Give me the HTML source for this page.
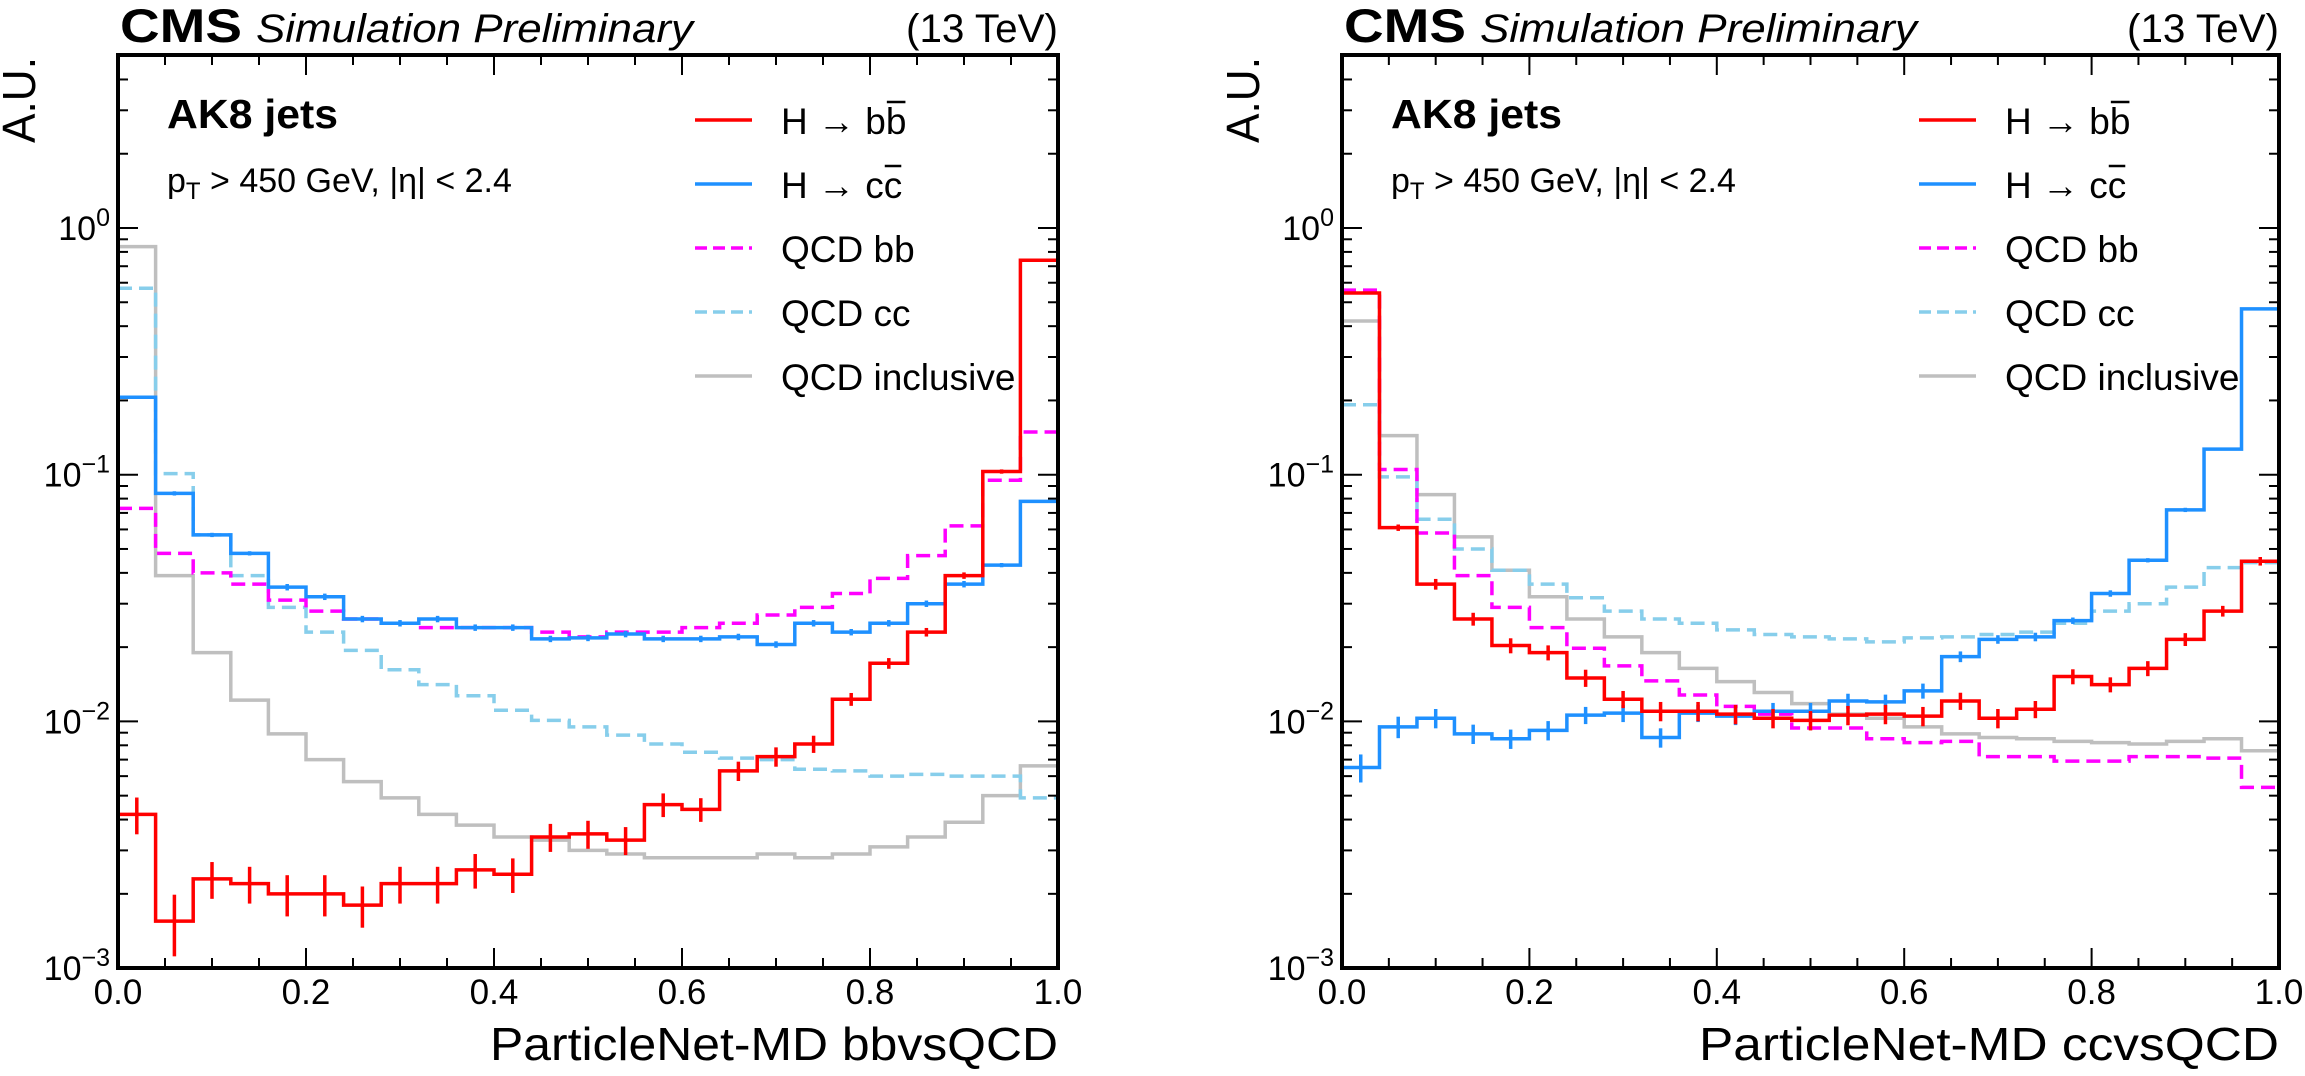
<!DOCTYPE html>
<html><head><meta charset="utf-8">
<style>
html,body{margin:0;padding:0;background:#fff;}
svg{display:block;font-family:"Liberation Sans",Arial,sans-serif;}
</style></head>
<body>
<svg id="chart" width="2305" height="1076" viewBox="0 0 2305 1076"></svg>
<script>
// ---- data: 25 bins of width 0.04 on [0,1] ----
const binEdges = [0,0.04,0.08,0.12,0.16,0.2,0.24,0.28,0.32,0.36,0.4,0.44,0.48,0.52,0.56,0.6,0.64,0.68,0.72,0.76,0.8,0.84,0.88,0.92,0.96,1.0];
const xTickLabels = ["0.0","0.2","0.4","0.6","0.8","1.0"];
const xTickValues = [0,0.2,0.4,0.6,0.8,1.0];
const yTickExps = [0,-1,-2,-3];
const seriesNames = ["H → bb","H → cc","QCD bb","QCD cc","QCD inclusive"];

// left panel (bbvsQCD)
const L_hbb = [0.0042,0.00155,0.0023,0.0022,0.002,0.002,0.0018,0.0022,0.0022,0.0025,0.0024,0.0034,0.0035,0.0033,0.0046,0.0044,0.0063,0.0072,0.0081,0.0123,0.0172,0.023,0.039,0.103,0.74];
const L_hcc = [0.206,0.084,0.057,0.048,0.035,0.032,0.026,0.025,0.026,0.024,0.024,0.0216,0.0218,0.0226,0.0216,0.0216,0.022,0.0205,0.025,0.023,0.025,0.030,0.036,0.043,0.078];
const L_qbb = [0.073,0.048,0.040,0.036,0.031,0.028,0.026,0.025,0.024,0.024,0.024,0.023,0.022,0.023,0.023,0.024,0.025,0.027,0.029,0.033,0.038,0.047,0.062,0.095,0.149];
const L_qcc = [0.57,0.101,0.057,0.039,0.029,0.023,0.0194,0.0162,0.0141,0.0127,0.0111,0.0101,0.0095,0.0088,0.0081,0.0075,0.0071,0.007,0.0064,0.0063,0.006,0.0061,0.006,0.006,0.0049];
const L_qinc = [0.84,0.039,0.019,0.0122,0.0089,0.007,0.0057,0.0049,0.0042,0.0038,0.0034,0.0033,0.003,0.0029,0.0028,0.0028,0.0028,0.0029,0.0028,0.0029,0.0031,0.0034,0.0039,0.005,0.0066];
const L_hbbErr = [0.17,0.28,0.17,0.17,0.19,0.19,0.19,0.17,0.17,0.16,0.16,0.13,0.13,0.13,0.11,0.11,0.09,0.09,0.08,0.06,0.05,0.04,0.03,0.02,0.005];
const L_hccErr = [0.01,0.02,0.02,0.02,0.03,0.03,0.03,0.03,0.03,0.03,0.03,0.03,0.03,0.03,0.03,0.03,0.03,0.03,0.03,0.03,0.03,0.03,0.03,0.02,0.01];

// right panel (ccvsQCD)
const R_hbb = [0.545,0.061,0.036,0.026,0.0203,0.019,0.015,0.0123,0.011,0.011,0.0107,0.0103,0.0101,0.0106,0.0107,0.0105,0.0121,0.0103,0.0112,0.0152,0.0141,0.0164,0.0215,0.028,0.0446];
const R_hcc = [0.0065,0.0095,0.0103,0.0089,0.0085,0.0092,0.0106,0.0108,0.0086,0.0108,0.0105,0.011,0.011,0.0121,0.012,0.0133,0.0183,0.0215,0.022,0.0256,0.033,0.045,0.072,0.127,0.47];
const R_qbb = [0.56,0.105,0.058,0.039,0.029,0.024,0.0198,0.0168,0.0146,0.0128,0.0115,0.0107,0.0094,0.0094,0.0085,0.0082,0.0083,0.0072,0.0072,0.0069,0.0069,0.0072,0.0072,0.0071,0.0054];
const R_qcc = [0.192,0.098,0.066,0.050,0.041,0.036,0.0317,0.028,0.026,0.025,0.0235,0.0225,0.022,0.0216,0.021,0.0218,0.022,0.0225,0.023,0.025,0.028,0.030,0.035,0.042,0.044];
const R_qinc = [0.42,0.144,0.083,0.056,0.041,0.032,0.026,0.022,0.019,0.0164,0.0145,0.0131,0.0118,0.0107,0.0103,0.0095,0.0089,0.0086,0.0085,0.0083,0.0082,0.0081,0.0083,0.0085,0.0076];
const R_hbbErr = [0.01,0.03,0.05,0.06,0.07,0.07,0.08,0.08,0.09,0.09,0.09,0.09,0.09,0.09,0.09,0.09,0.08,0.09,0.08,0.07,0.07,0.07,0.06,0.05,0.04];
const R_hccErr = [0.13,0.10,0.09,0.09,0.09,0.09,0.08,0.08,0.09,0.08,0.08,0.08,0.08,0.07,0.07,0.07,0.05,0.04,0.04,0.03,0.03,0.02,0.02,0.01,0.005];

const NS = "http://www.w3.org/2000/svg";
const svg = document.getElementById("chart");
function mk(tag, attrs, parent){
  const e = document.createElementNS(NS, tag);
  for (const k in attrs) e.setAttribute(k, attrs[k]);
  (parent||svg).appendChild(e);
  return e;
}
const colors = ["#ff0000","#1e90ff","#ff00ff","#87ceeb","#bfbfbf"];
const dashes = [null,null,"14,7","14,7",null];

function panel(x0, x1, yTop, yBot, y0pos, decade, series, errs, title, pname){
  const g = mk("g", {});
  
  
  const xs = v => x0 + (x1 - x0) * v;
  const ys = v => y0pos - decade * Math.log10(v);
  const clip = mk("clipPath", {id: pname+"-clip"}, g);
  mk("rect", {x:x0, y:yTop, width:x1-x0, height:yBot-yTop}, clip);
  const plot = mk("g", {"clip-path":"url(#"+pname+"-clip)"}, g);
  const order = [4,3,2,1,0];
  for (const si of order){
    const vals = series[si];
    let d = "";
    for (let i=0;i<vals.length;i++){
      const xa = xs(binEdges[i]), xb = xs(binEdges[i+1]), y = ys(vals[i]);
      d += (i===0 ? "M"+xa+","+y : "V"+y) + "H"+xb;
    }
    const p = mk("path", {d:d, fill:"none", stroke:colors[si], "stroke-width":3.5}, plot);
    if (dashes[si]) p.setAttribute("stroke-dasharray", dashes[si]);
    
    
    if (errs[si]){
      const e = errs[si];
      for (let i=0;i<vals.length;i++){
        const xc = xs((binEdges[i]+binEdges[i+1])/2);
        const ln = mk("line", {x1:xc, x2:xc, y1:ys(vals[i]*(1+e[i])), y2:ys(vals[i]*(1-e[i])), stroke:colors[si], "stroke-width":3.5}, plot);
        
        
      }
    }
  }
  const fr = mk("rect", {x:x0, y:yTop, width:x1-x0, height:yBot-yTop, fill:"none", stroke:"#000", "stroke-width":4}, g);
  
  
  for (let k=0;k<=20;k++){
    const v = k*0.05, x = xs(v), L = (k%4===0)?20:10;
    mk("line", {x1:x, x2:x, y1:yBot, y2:yBot-L, stroke:"#000", "stroke-width":2}, g);
    mk("line", {x1:x, x2:x, y1:yTop, y2:yTop+L, stroke:"#000", "stroke-width":2}, g);
  }
  for (let i=0;i<xTickValues.length;i++){
    const t = mk("text", {x:xs(xTickValues[i]), y:yBot+36, "font-size":35, "text-anchor":"middle"}, g);
    t.textContent = xTickLabels[i];
    
    
  }
  for (let e=-3;e<=0;e++){
    for (let m=1;m<=9;m++){
      const v = m*Math.pow(10,e), y = ys(v);
      if (y < yTop-1) continue;
      const L = (m===1)?20:10;
      mk("line", {x1:x0, x2:x0+L, y1:y, y2:y, stroke:"#000", "stroke-width":2}, g);
      mk("line", {x1:x1, x2:x1-L, y1:y, y2:y, stroke:"#000", "stroke-width":2}, g);
    }
  }
  for (let m=1;m<=5;m++){
    const y = ys(m*10);
    if (y >= yTop){
      mk("line", {x1:x0, x2:x0+10, y1:y, y2:y, stroke:"#000", "stroke-width":2}, g);
      mk("line", {x1:x1, x2:x1-10, y1:y, y2:y, stroke:"#000", "stroke-width":2}, g);
    }
  }
  for (const ex of yTickExps){
    const y = ys(Math.pow(10,ex));
    const t = mk("text", {x:x0-8, y:y+12, "font-size":34, "text-anchor":"end"}, g);
    const a = mk("tspan", {}, t); a.textContent = "10";
    const b = mk("tspan", {dy:-14, "font-size":25}, t); b.textContent = (ex<0?"\u2212":"") + Math.abs(ex);
    
    
  }
  let t = mk("text", {x:x0+2, y:yTop-13, "font-size":47, "font-weight":"bold", textLength:122, lengthAdjust:"spacingAndGlyphs"}, g);
  t.textContent = "CMS";
   
  t = mk("text", {x:x0+138, y:yTop-13, "font-size":40, "font-style":"italic", textLength:437, lengthAdjust:"spacingAndGlyphs"}, g);
  t.textContent = "Simulation Preliminary";
   
  t = mk("text", {x:x1, y:yTop-13, "font-size":40, "text-anchor":"end", textLength:152, lengthAdjust:"spacingAndGlyphs"}, g);
  t.textContent = "(13 TeV)";
   
  t = mk("text", {x:0, y:0, "font-size":46, "text-anchor":"end", textLength:86, lengthAdjust:"spacingAndGlyphs", transform:"translate("+(x0-83)+","+(yTop+2)+") rotate(-90)"}, g);
  t.textContent = "A.U.";
   
  t = mk("text", {x:x1, y:yBot+92, "font-size":46, "text-anchor":"end", textLength: (pname==="left-panel"?568:580), lengthAdjust:"spacingAndGlyphs"}, g);
  t.textContent = title;
   
  t = mk("text", {x:x0+49, y:yTop+73, "font-size":41, "font-weight":"bold", textLength:171, lengthAdjust:"spacingAndGlyphs"}, g);
  t.textContent = "AK8 jets";
   
  t = mk("text", {x:x0+49, y:yTop+137, "font-size":34}, g);
  const p1 = mk("tspan", {}, t); p1.textContent = "p";
  const p2 = mk("tspan", {dy:7, "font-size":24}, t); p2.textContent = "T";
  const p3 = mk("tspan", {dy:-7}, t); p3.textContent = " > 450 GeV, |η| < 2.4";
   
  const rows = [120,184,248,312,376];
  for (let i=0;i<5;i++){
    const lg = mk("g", {}, g);
    
    
    const lx = x0 + 577;
    const ln = mk("line", {x1:lx, x2:lx+57, y1:rows[i], y2:rows[i], stroke:colors[i], "stroke-width":3.5}, lg);
    if (dashes[i]) ln.setAttribute("stroke-dasharray", "12,6");
    const tx = mk("text", {x:lx+86, y:rows[i]+14, "font-size":37}, lg);
    tx.textContent = seriesNames[i];
    if (i<2){
      const n = seriesNames[i].length;
      const sx = tx.getStartPositionOfChar(n-1).x;
      const ex = tx.getEndPositionOfChar(n-1).x;
      const ol = mk("line", {x1:sx+1, x2:ex-1, y1:rows[i]-18, y2:rows[i]-18, stroke:"#000", "stroke-width":2.5}, lg);
      
      
    }
  }
}

panel(118, 1058, 55, 968, 228, 246.7,
  [L_hbb, L_hcc, L_qbb, L_qcc, L_qinc], [L_hbbErr, L_hccErr, null, null, null],
  "ParticleNet-MD bbvsQCD", "left-panel");
panel(1342, 2279, 55, 968, 228, 246.7,
  [R_hbb, R_hcc, R_qbb, R_qcc, R_qinc], [R_hbbErr, R_hccErr, null, null, null],
  "ParticleNet-MD ccvsQCD", "right-panel");
</script>
</body></html>
